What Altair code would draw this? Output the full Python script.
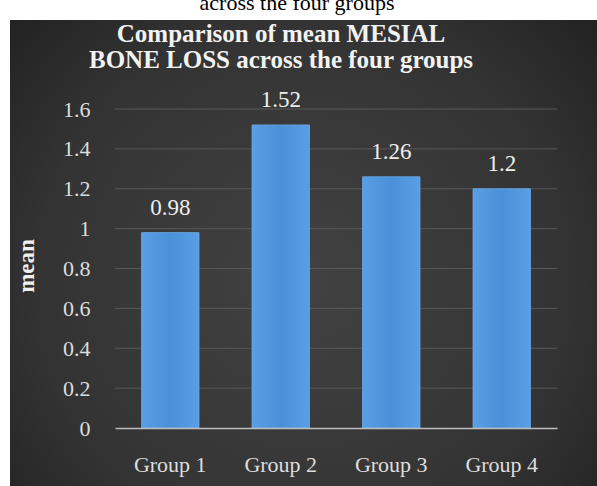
import altair as alt
import pandas as pd

# Mean mesial bone loss per group
groups = ["Group 1", "Group 2", "Group 3", "Group 4"]
means = [0.98, 1.52, 1.26, 1.2]
y_ticks = [0, 0.2, 0.4, 0.6, 0.8, 1, 1.2, 1.4, 1.6]

df = pd.DataFrame({"group": groups, "mean": means})
grid_df = pd.DataFrame({"tick": y_ticks[1:]})

SERIF = "Liberation Serif"
PLOT_W, PLOT_H = 442, 319

# Dark panel with a soft radial vignette behind the whole chart
panel = alt.Chart(pd.DataFrame({"k": [0]})).mark_rect(
    fill=alt.Gradient(
        gradient="radial",
        stops=[
            alt.GradientStop(offset=0, color="#424242"),
            alt.GradientStop(offset=0.6, color="#333333"),
            alt.GradientStop(offset=1, color="#1c1c1c"),
        ],
        x1=0.5, y1=0.55, r1=0.0, x2=0.5, y2=0.55, r2=0.75,
    ),
).encode(
    x=alt.value(-105), x2=alt.value(PLOT_W + 40),
    y=alt.value(-89), y2=alt.value(PLOT_H + 58),
)

# Caption line of the surrounding page above the panel
caption = alt.Chart(pd.DataFrame({"t": ["across the four groups"]})).mark_text(
    font=SERIF, fontSize=22, color="black", align="center", baseline="alphabetic",
).encode(x=alt.value(182), y=alt.value(-99), text="t:N")

# Chart heading, two lines
heading = alt.Chart(
    pd.DataFrame({"t": ["Comparison  of mean MESIAL\nBONE LOSS across  the four groups"]})
).mark_text(
    font=SERIF, fontSize=25, fontWeight="bold", color="#f2f2f2",
    align="center", baseline="alphabetic", lineBreak="\n", lineHeight=26,
).encode(x=alt.value(166), y=alt.value(-67), text="t:N")

y_scale = alt.Scale(domain=[0, 1.6], nice=False)
x_scale = alt.Scale(paddingInner=0.48, paddingOuter=0.24)

x_axis = alt.Axis(
    labelAngle=0, labelFont=SERIF, labelFontSize=22, labelColor="#dddddd",
    labelPadding=26, ticks=False, domainColor="#bdbdbd", domainWidth=1.5,
    grid=False, zindex=1,
)
y_axis = alt.Axis(
    values=y_ticks, format="~g", labelOverlap=False,
    labelFont=SERIF, labelFontSize=22, labelColor="#dddddd",
    labelPadding=25, ticks=False, domain=False, grid=False, zindex=1,
    titleFont=SERIF, titleFontSize=23, titleFontWeight="bold",
    titleColor="#eeeeee", titleX=-77, titleY=PLOT_H / 2 - 3,
)

# Horizontal gridlines at the tick values
grid = alt.Chart(grid_df).mark_rule(color="#585858", strokeWidth=1).encode(
    y=alt.Y("tick:Q", title="mean", scale=y_scale, axis=y_axis),
    x=alt.value(0), x2=alt.value(PLOT_W),
)

bars = alt.Chart(df).mark_bar(
    fill=alt.Gradient(
        gradient="linear",
        stops=[
            alt.GradientStop(offset=0, color="#5a9fe4"),
            alt.GradientStop(offset=0.5, color="#4a90da"),
            alt.GradientStop(offset=1, color="#5a9fe4"),
        ],
        x1=0, x2=1, y1=0, y2=0,
    ),
    stroke="#6aaae8", strokeWidth=0.8,
).encode(
    x=alt.X("group:N", sort=groups, title=None, scale=x_scale, axis=x_axis),
    y=alt.Y("mean:Q", title="mean", scale=y_scale, axis=y_axis),
)

labels = alt.Chart(df).mark_text(
    font=SERIF, fontSize=23, color="#eeeeee", baseline="bottom", dy=-13,
).encode(
    x=alt.X("group:N", sort=groups, title=None, scale=x_scale, axis=x_axis),
    y=alt.Y("mean:Q", title="mean", scale=y_scale, axis=y_axis),
    text=alt.Text("mean:Q"),
)

chart = alt.layer(panel, caption, heading, grid, bars, labels).properties(
    width=PLOT_W, height=PLOT_H,
    autosize=alt.AutoSizeParams(type="none"),
    padding={"left": 115, "top": 109, "right": 40, "bottom": 58},
).configure(background="white").configure_view(stroke=None)

chart.save("out.html", embed_options={"renderer": "svg", "actions": False})
